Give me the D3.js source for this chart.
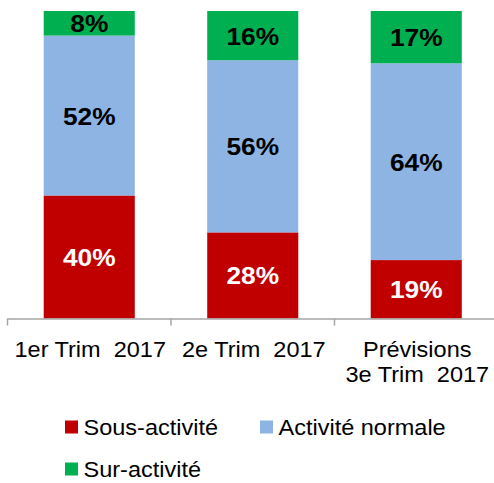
<!DOCTYPE html>
<html>
<head>
<meta charset="utf-8">
<script src="https://cdn.jsdelivr.net/npm/d3@7"></script>
<style>
  body { margin: 0; background: #fff; }
  text { font-family: "Liberation Sans", Arial, sans-serif; }
</style>
</head>
<body>
<div id="chart"></div>
<script>
// DATA //
const categories = ["1er Trim  2017", "2e Trim  2017", "Prévisions\n3e Trim  2017"];
const series = ["Sous-activité", "Activité normale", "Sur-activité"];
const sousActivite = [40, 28, 19];
const activiteNormale = [52, 56, 64];
const surActivite = [8, 16, 17];
const colors = ["#C00000", "#8EB4E3", "#00B050"];
const labelColors = ["#fff", "#000", "#000"];

const table = categories.map((c, i) => ({
  cat: c,
  "Sous-activité": sousActivite[i],
  "Activité normale": activiteNormale[i],
  "Sur-activité": surActivite[i]
}));

// DIMENSIONS //
const width = 494, height = 483;
const plotTop = 11, plotBottom = 318.5;
const stretch = 1.045;      // text in the original is slightly wider than Arial
const boldStretch = 1.12;

const svg = d3.select("#chart").append("svg")
  .attr("width", width).attr("height", height);

// scales
const xScale = d3.scaleBand()
  .domain(categories)
  .range([7.5, 498])
  .paddingInner(0.443)
  .paddingOuter(0.2215);

const yScale = d3.scaleLinear()
  .domain([0, 100])
  .range([plotBottom, plotTop]);

const stacked = d3.stack().keys(series)(table);

// bars
const layers = svg.append("g").selectAll("g")
  .data(stacked)
  .enter().append("g")
  .attr("fill", (d, i) => colors[i]);

layers.selectAll("rect")
  .data(d => d)
  .enter().append("rect")
  .attr("x", d => xScale(d.data.cat))
  .attr("y", d => yScale(d[1]))
  .attr("width", xScale.bandwidth())
  .attr("height", d => yScale(d[0]) - yScale(d[1]));

// value labels
stacked.forEach((layer, li) => {
  svg.append("g").selectAll("text")
    .data(layer)
    .enter().append("text")
    .attr("transform", d => {
      const cx = xScale(d.data.cat) + xScale.bandwidth() / 2;
      const cy = (yScale(d[0]) + yScale(d[1])) / 2 + 0.5;
      return `translate(${cx},${cy}) scale(${boldStretch},1)`;
    })
    .attr("dy", "0.36em")
    .attr("text-anchor", "middle")
    .attr("font-size", 23.5)
    .attr("font-weight", "bold")
    .attr("fill", labelColors[li])
    .text(d => (d[1] - d[0]) + "%");
});

// X AXIS //
const step = xScale.step();
const start = xScale(categories[0]) - xScale.paddingOuter() * step;
const axis = svg.append("g").attr("stroke", "#A6A6A6").attr("stroke-width", 1.5);
axis.append("line")
  .attr("x1", start).attr("x2", start + step * categories.length)
  .attr("y1", plotBottom + 0.5).attr("y2", plotBottom + 0.5);
d3.range(categories.length + 1).forEach(i => {
  axis.append("line")
    .attr("x1", start + i * step).attr("x2", start + i * step)
    .attr("y1", plotBottom).attr("y2", plotBottom + 7);
});

const xLabels = svg.append("g").selectAll("text")
  .data(categories)
  .enter().append("text")
  .attr("transform", c => `translate(${xScale(c) + xScale.bandwidth() / 2 + 1},356.5) scale(${stretch},1)`)
  .attr("text-anchor", "middle")
  .attr("font-size", 22.5)
  .attr("fill", "#000");
xLabels.each(function(c) {
  c.split("\n").forEach((l, k) => {
    d3.select(this).append("tspan")
      .attr("x", 0)
      .attr("y", k * 26)
      .style("white-space", "pre")
      .text(l);
  });
});

// LEGEND //
const legendPos = [[65, 427], [260, 427], [65, 469]];
const legend = svg.append("g").selectAll("g")
  .data(series)
  .enter().append("g")
  .attr("transform", (d, i) => `translate(${legendPos[i][0]},${legendPos[i][1]})`);
legend.append("rect")
  .attr("x", 0).attr("y", -6.5)
  .attr("width", 13).attr("height", 13)
  .attr("fill", (d, i) => colors[i]);
legend.append("text")
  .attr("transform", `translate(18.5,0) scale(${stretch},1)`)
  .attr("dy", "0.36em")
  .attr("font-size", 22.5)
  .attr("fill", "#000")
  .text(d => d);
</script>
</body>
</html>
